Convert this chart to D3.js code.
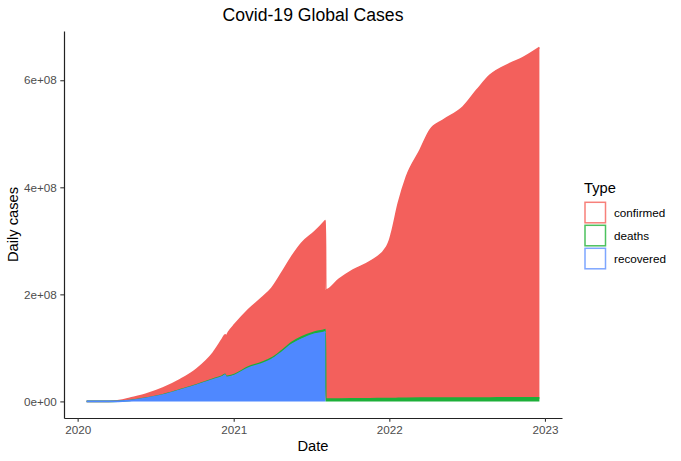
<!DOCTYPE html>
<html>
<head>
<meta charset="utf-8">
<script src="https://cdn.jsdelivr.net/npm/d3@7"></script>
<style>
  body { margin: 0; background: #fff; }
  svg { display: block; font-family: "Liberation Sans", Arial, Helvetica, sans-serif; }
</style>
</head>
<body>
<svg id="chart"></svg>
<script>
// Values in millions
// (recovered stops being reported after 2021-08-04 -> null)
const dates = [
  '2020-01-22', '2020-02-15', '2020-03-01', '2020-03-24', '2020-04-15', '2020-05-02',
  '2020-06-10', '2020-07-19', '2020-08-28', '2020-10-06', '2020-11-14', '2020-12-05',
  '2020-12-12', '2020-12-14', '2020-12-20', '2021-01-04', '2021-02-04', '2021-03-07',
  '2021-03-31', '2021-04-23', '2021-05-17', '2021-06-09', '2021-07-10', '2021-08-03',
  '2021-08-04', '2021-08-05', '2021-09-05', '2021-10-08', '2021-11-16', '2021-12-26',
  '2022-01-01', '2022-01-06', '2022-01-22', '2022-02-10', '2022-03-14', '2022-04-06',
  '2022-05-07', '2022-06-23', '2022-07-25', '2022-08-25', '2022-10-11', '2022-11-11',
  '2022-12-19'
];
const confirmed = [
  0.0006, 0.069, 0.088, 0.42, 2.1, 4.2,
  7.5, 12.5, 18.7, 29.2, 49.2, 68.5,
  73.6, 75.5, 82.8, 93.4, 106.9, 120.3,
  130.6, 145.2, 160.5, 175.4, 187.5, 203.1,
  203.6, 204.0, 223.8, 240.9, 256.1, 283.8,
  294.5, 308.7, 364.6, 414.0, 463.6, 500.7,
  519.3, 544.1, 575.1, 603.0, 624.8, 635.9,
  654.5
];
const deaths = [
  0.00002, 0.0017, 0.003, 0.019, 0.14, 0.25,
  0.42, 0.61, 0.84, 1.05, 1.3, 1.52,
  1.59, 1.62, 1.68, 1.86, 2.25, 2.6,
  2.8, 3.05, 3.4, 3.75, 4.0, 4.24,
  4.25, 4.26, 4.57, 4.82, 5.08, 5.4,
  5.44, 5.48, 5.6, 5.8, 6.04, 6.17,
  6.26, 6.34, 6.42, 6.49, 6.56, 6.6,
  6.66
];
const recovered = [
  0.00003, 0.010, 0.043, 0.10, 0.55, 1.55,
  5.9, 11.9, 21.0, 30.2, 40.5, 46.0,
  49.2, 45.0, 45.5, 49.1, 62.0, 70.0,
  78.2, 91.3, 106.6, 116.4, 125.7, 129.8,
  130.2, null, null, null, null, null,
  null, null, null, null, null, null,
  null, null, null, null, null, null,
  null
];
const types = ['confirmed', 'deaths', 'recovered'];
const fillColors = ['#F3605C', '#1DAF39', '#4F88FF'];
const keyColors = ['#F7807A', '#4CC15E', '#7EA6FF'];
const xTicks = ['2020-01-01', '2021-01-01', '2022-01-01', '2023-01-01'];
const xTickLabels = ['2020', '2021', '2022', '2023'];
const yTicks = [0, 2e8, 4e8, 6e8];
const yTickLabels = ['0e+00', '2e+08', '4e+08', '6e+08'];

const W = 681, H = 461;
const panel = { left: 64, right: 562, top: 31, bottom: 418 };
const parse = d3.timeParse('%Y-%m-%d');

const rows = dates.map((d, i) => ({
  date: parse(d),
  confirmed: confirmed[i] * 1e6,
  deaths: deaths[i] * 1e6,
  recovered: recovered[i] == null ? null : recovered[i] * 1e6
}));

const svg = d3.select('#chart').attr('width', W).attr('height', H);
svg.append('rect').attr('width', W).attr('height', H).attr('fill', '#fff');

const x = d3.scaleTime()
  .domain([parse('2019-11-30'), parse('2023-02-10')])
  .range([panel.left, panel.right]);
const y = d3.scaleLinear()
  .domain([-0.31e8, 6.92e8])
  .range([panel.bottom, panel.top]);

// stack: recovered at the bottom, then deaths, confirmed on top
const stack = d3.stack()
  .keys(['recovered', 'deaths', 'confirmed'])
  .value((d, k) => d[k] == null ? 0 : d[k]);
const layers = stack(rows);
const colorOf = k => fillColors[types.indexOf(k)];
const present = k => d => d.data[k] != null;

// ggplot draws group by group: confirmed, deaths, recovered (area + upper outline)
const g = svg.append('g');
types.forEach(k => {
  const layer = layers.find(l => l.key === k);
  const area = d3.area()
    .defined(present(k))
    .x(d => x(d.data.date))
    .y0(d => y(d[0]))
    .y1(d => y(d[1]))
    .curve(d3.curveMonotoneX);
  const upper = d3.line()
    .defined(present(k))
    .x(d => x(d.data.date))
    .y(d => y(d[1]))
    .curve(d3.curveMonotoneX);
  g.append('path')
    .datum(layer)
    .attr('fill', colorOf(k))
    .attr('d', area);
  g.append('path')
    .datum(layer)
    .attr('fill', 'none')
    .attr('stroke', colorOf(k))
    .attr('stroke-width', 1.6)
    .attr('d', upper);
});

// axes
const yAxis = svg.append('g')
  .attr('transform', `translate(${panel.left},0)`)
  .call(d3.axisLeft(y).tickValues(yTicks).tickFormat((d, i) => yTickLabels[i])
    .tickSizeInner(3.7).tickSizeOuter(0).tickPadding(3.6));
const xAxis = svg.append('g')
  .attr('transform', `translate(0,${panel.bottom})`)
  .call(d3.axisBottom(x).tickValues(xTicks.map(parse)).tickFormat((d, i) => xTickLabels[i])
    .tickSizeInner(3.7).tickSizeOuter(0).tickPadding(4.3));

[yAxis, xAxis].forEach(a => {
  a.select('.domain').attr('stroke', '#222').attr('stroke-width', 1.2);
  a.selectAll('.tick line').attr('stroke', '#333').attr('stroke-width', 1.1);
  a.selectAll('.tick text')
    .attr('fill', '#4D4D4D')
    .style('font-size', '11.7px')
    .style('font-family', '"Liberation Sans", Arial, Helvetica, sans-serif');
});

// titles
svg.append('text')
  .attr('x', (panel.left + panel.right) / 2)
  .attr('y', 20.5)
  .attr('text-anchor', 'middle')
  .style('font-size', '17.6px')
  .text('Covid-19 Global Cases');

svg.append('text')
  .attr('x', (panel.left + panel.right) / 2)
  .attr('y', 450.5)
  .attr('text-anchor', 'middle')
  .style('font-size', '14.7px')
  .text('Date');

svg.append('text')
  .attr('transform', `translate(18,${(panel.top + panel.bottom) / 2}) rotate(-90)`)
  .attr('text-anchor', 'middle')
  .style('font-size', '14.7px')
  .text('Daily cases');

// legend
const legend = svg.append('g').attr('transform', 'translate(584,0)');
legend.append('text')
  .attr('x', 0)
  .attr('y', 193)
  .style('font-size', '14.7px')
  .text('Type');

types.forEach((t, i) => {
  const top = 201.5 + i * 23;
  legend.append('rect')
    .attr('x', 1)
    .attr('y', top + 0.8)
    .attr('width', 20.5)
    .attr('height', 20.5)
    .attr('fill', '#fff')
    .attr('stroke', keyColors[i])
    .attr('stroke-width', 1.5);
  legend.append('text')
    .attr('x', 30)
    .attr('y', top + 11)
    .attr('dy', '0.35em')
    .style('font-size', '11.7px')
    .text(t);
});
</script>
</body>
</html>
